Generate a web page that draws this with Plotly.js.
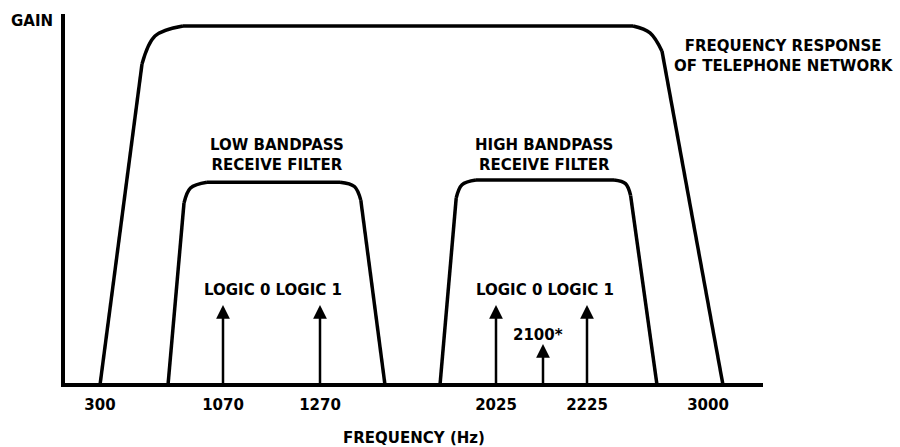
<!DOCTYPE html>
<html>
<head>
<meta charset="utf-8">
<script src="https://cdn.plot.ly/plotly-3.0.1.min.js"></script>
<style>
  html, body { margin: 0; padding: 0; background: #ffffff; }
  #chart { width: 900px; height: 447px; }
</style>
</head>
<body>
<div id="chart"></div>
<script>
// Schematic positions along the frequency axis (diagram units) and relative gain (1 = network passband)
// Each outline: bottom-left, left corner (start, middle, end), right corner (start, middle, end), bottom-right
var networkX    = [38, 80, 93, 121, 571, 588, 600, 661];
var networkGain = [0, 0.894, 0.972, 1.0, 1.0, 0.981, 0.930, 0];

var lowFilterX    = [106, 122, 128.5, 145, 278, 292.4, 298.8, 323];
var lowFilterGain = [0, 0.507, 0.549, 0.565, 0.565, 0.553, 0.515, 0];

var highFilterX    = [378, 394.2, 400, 414, 552, 563.5, 568.6, 595];
var highFilterGain = [0, 0.521, 0.558, 0.571, 0.571, 0.561, 0.528, 0];

// Tone arrows
var toneFreqs  = [1070, 1270, 2025, 2100, 2225];
var toneX      = [161, 258, 434, 481, 525];
var toneHeight = [0.223, 0.223, 0.223, 0.114, 0.223];

// Axis tick labels
var tickPos    = [38, 161, 258, 434, 525, 646];
var tickLabels = ['300', '1070', '1270', '2025', '2225', '3000'];

// Text labels inside the diagram (diagram units)
var labelTexts = ['LOW BANDPASS<br>RECEIVE FILTER', 'HIGH BANDPASS<br>RECEIVE FILTER',
                  'LOGIC 0 LOGIC 1', 'LOGIC 0 LOGIC 1', '2100*'];
var labelX = [215, 482, 211, 483, 476];
var labelY = [0.642, 0.642, 0.265, 0.265, 0.139];

// Text labels outside the plotting area (paper units)
var outerTexts = ['GAIN', 'FREQUENCY RESPONSE<br>OF TELEPHONE NETWORK'];
var outerX = [-0.0473, 1.030];
var outerY = [0.98, 0.8875];

var FONT = 'DejaVu Sans, Arial, sans-serif';

function pick(arr, idx) {
  return idx.map(function (i) { return i === null ? null : arr[i]; });
}

function outlineTraces(xs, ys, name) {
  var straight = [0, 1, null, 3, 4, null, 6, 7];
  var corners = [[1, 2, 3], [4, 5, 6]];
  var out = [{
    x: pick(xs, straight), y: pick(ys, straight), mode: 'lines', name: name,
    line: {color: '#000000', width: 3.5, shape: 'linear'}, hoverinfo: 'skip', connectgaps: false
  }];
  corners.forEach(function (c) {
    out.push({
      x: pick(xs, c), y: pick(ys, c), mode: 'lines', name: name + ' corner',
      line: {color: '#000000', width: 3.5, shape: 'spline', smoothing: 1}, hoverinfo: 'skip'
    });
  });
  return out;
}

var traces = []
  .concat(outlineTraces(networkX, networkGain, 'Telephone network'))
  .concat(outlineTraces(lowFilterX, lowFilterGain, 'Low bandpass filter'))
  .concat(outlineTraces(highFilterX, highFilterGain, 'High bandpass filter'));

var annotations = [];
for (var i = 0; i < toneX.length; i++) {
  annotations.push({
    x: toneX[i], y: toneHeight[i], xref: 'x', yref: 'y',
    ax: toneX[i], ay: 0, axref: 'x', ayref: 'y',
    text: '', showarrow: true, arrowhead: 2, arrowsize: 1.1, arrowwidth: 2.5,
    arrowcolor: '#000000', standoff: 0, startstandoff: 0
  });
}
for (var j = 0; j < labelTexts.length; j++) {
  annotations.push({
    x: labelX[j], y: labelY[j], xref: 'x', yref: 'y',
    text: labelTexts[j], showarrow: false, xanchor: 'center', yanchor: 'middle',
    font: {family: FONT, size: 15, color: '#000000', weight: 'bold'}
  });
}
for (var k = 0; k < outerTexts.length; k++) {
  annotations.push({
    x: outerX[k], y: outerY[k], xref: 'paper', yref: 'paper',
    text: outerTexts[k], showarrow: false, xanchor: 'center', yanchor: 'middle',
    font: {family: FONT, size: 15, color: '#000000', weight: 'bold'}
  });
}

var layout = {
  width: 900, height: 447,
  margin: {l: 65, r: 137, t: 14, b: 64},
  paper_bgcolor: '#ffffff', plot_bgcolor: '#ffffff',
  showlegend: false,
  hovermode: false,
  font: {family: FONT, size: 15, color: '#000000', weight: 'bold'},
  xaxis: {
    range: [3, 701], showgrid: false, zeroline: false,
    showline: true, linewidth: 4, linecolor: '#000000',
    tickmode: 'array', tickvals: tickPos, ticktext: tickLabels,
    ticks: '', ticklabelstandoff: 5, tickfont: {family: FONT, size: 15, weight: 'bold'},
    title: {text: 'FREQUENCY (Hz)', font: {family: FONT, size: 15, weight: 'bold'}, standoff: 33},
    fixedrange: true
  },
  yaxis: {
    range: [0.0056, 1.0335], showgrid: false, zeroline: false,
    showline: true, linewidth: 4, linecolor: '#000000',
    showticklabels: false, ticks: '', fixedrange: true
  },
  annotations: annotations
};

Plotly.newPlot('chart', traces, layout, {displayModeBar: false, staticPlot: true});
</script>
</body>
</html>
